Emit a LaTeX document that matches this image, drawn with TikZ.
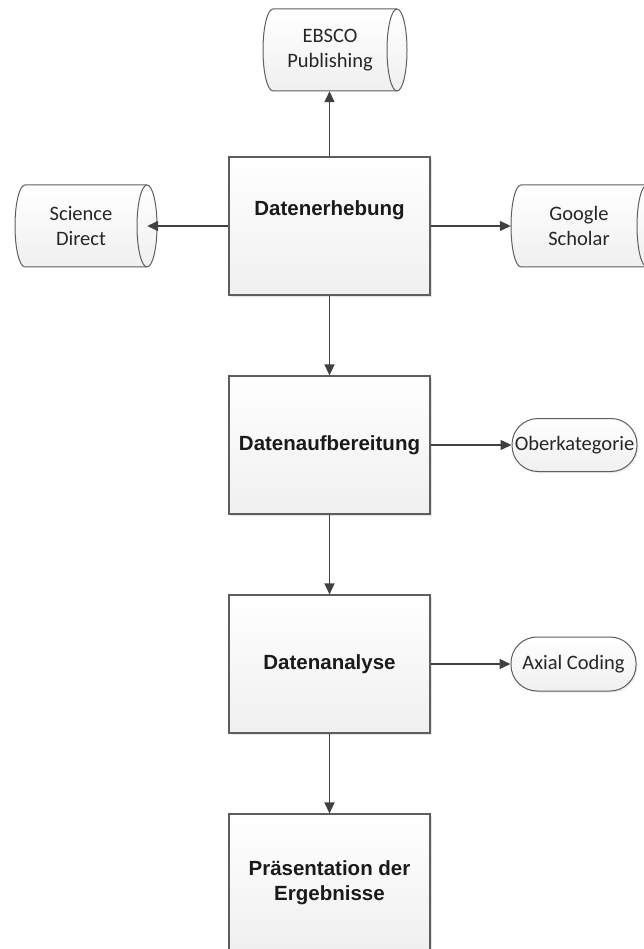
\documentclass[tikz,border=0pt]{standalone}
\usepackage{fontspec}
\setmainfont{Liberation Sans}
\newfontfamily\calibri{Carlito}
\usetikzlibrary{arrows.meta,shadows}
\definecolor{edge}{HTML}{5E5E5E}
\definecolor{arr}{HTML}{404040}
\definecolor{txt}{HTML}{1A1A1A}
\tikzset{
 procbox/.style={draw=edge, line width=1.2pt, top color=white, bottom color=black!6,
   minimum width=201pt, minimum height=138pt, inner sep=0pt, align=center,
   font=\fontsize{20.5}{25}\selectfont\bfseries, text=txt,
   general shadow={fill=black!10, shadow xshift=2pt, shadow yshift=-2pt}},
 boxtext/.style={font=\fontsize{20.5}{25}\selectfont\bfseries, text=txt, align=center, inner sep=0pt},
 cylshape/.style={draw=edge, line width=1pt, top color=white, bottom color=black!6},
 cyltext/.style={font=\calibri\fontsize{20.5}{25}\selectfont, text=black!85, align=center, inner sep=0pt},
 pill/.style={draw=edge, line width=1pt, rounded corners=26pt, top color=white, bottom color=black!6,
   inner sep=0pt, font=\calibri\fontsize{20.5}{25}\selectfont, text=black!85,
   general shadow={fill=black!8, shadow xshift=1.5pt, shadow yshift=-1.5pt}},
 conn/.style={draw=arr, line width=1.3pt, -{Triangle[length=11pt,width=10pt]}},
}
% name, left, right, top, bottom, text
\newcommand\cylnode[6]{%
 \path[cylshape] ({#2+10},{-#4}) -- ({#3-10},{-#4})
   arc[start angle=90,end angle=-90,x radius=10,y radius={(#5-#4)/2}]
   -- ({#2+10},{-#5})
   arc[start angle=270,end angle=90,x radius=10,y radius={(#5-#4)/2}] -- cycle;
 \draw[draw=edge,line width=1pt] ({#3-10},{-#5})
   arc[start angle=270,end angle=90,x radius=10,y radius={(#5-#4)/2}];
 \node[cyltext, minimum width={#3-10-#2}, minimum height={#5-#4}] (#1)
   at ({(#2+#3-10)/2},{-(#4+#5)/2}) {#6};
}
\begin{document}
\begin{tikzpicture}[x=1pt,y=1pt]
\useasboundingbox (0,0) rectangle (644,-949);
\clip (0,0) rectangle (644,-949);

% process boxes
\node[procbox] (b1) at (329.5,-226) {};
\node[boxtext] (t1) at (329.5,-210) {Datenerhebung};
\node[procbox] (b2) at (329.5,-445) {Datenaufbereitung};
\node[procbox] (b3) at (329.5,-664) {Datenanalyse};
\node[procbox] (b4) at (329.5,-883) {Präsentation der\\Ergebnisse};

% data sources
\cylnode{ebsco}{263}{407}{9}{91}{EBSCO\\Publishing}
\cylnode{sd}{15}{157}{185}{267}{Science\\Direct}
\cylnode{gs}{511}{657}{185}{267}{Google\\Scholar}

% terminators
\node[pill, minimum width=125pt, minimum height=53pt] (ober) at (574.5,-445) {Oberkategorie};
\node[pill, minimum width=125pt, minimum height=54pt] (axial) at (573.5,-664) {Axial Coding};

% connectors
\draw[conn] (b1.north) -- (b1.north |- ebsco.south);
\draw[conn] (b1.west) -- (b1.west -| sd.east);
\draw[conn] (b1.east) -- (b1.east -| gs.west);
\draw[conn] (b1.south) -- (b2.north);
\draw[conn] (b2.south) -- (b3.north);
\draw[conn] (b3.south) -- (b4.north);
\draw[conn] (b2.east) -- (b2.east -| ober.west);
\draw[conn] (b3.east) -- (b3.east -| axial.west);
\end{tikzpicture}
\end{document}
